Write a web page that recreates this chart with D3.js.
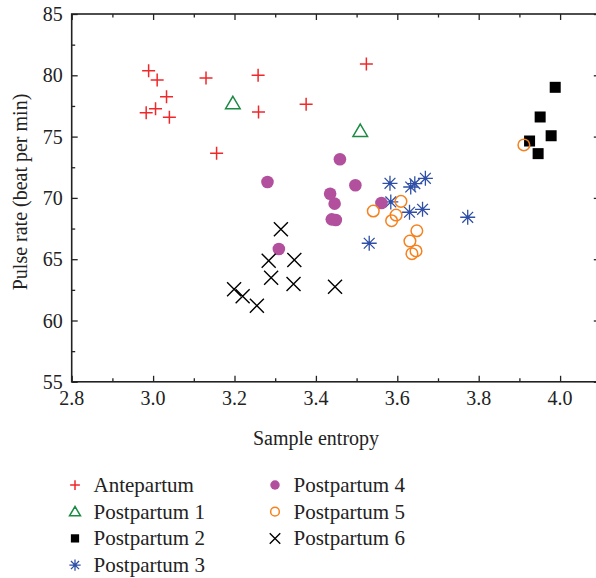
<!DOCTYPE html>
<html>
<head>
<meta charset="utf-8">
<script src="https://cdn.jsdelivr.net/npm/d3@7"></script>
<style>
  body { margin: 0; background: #fff; }
  text { font-family: "Liberation Serif", "DejaVu Serif", serif; fill: #222; }
</style>
</head>
<body>
<script>
// values: [sample entropy, pulse rate]
const antepartum = [[2.989, 80.38], [3.010, 79.62], [3.033, 78.25], [2.983, 76.95], [3.006, 77.28],
  [3.040, 76.57], [3.130, 79.78], [3.156, 73.64], [3.258, 80.0], [3.259, 77.01], [3.376, 77.63], [3.524, 80.92]];
const postpartum1 = [[3.196, 77.72], [3.509, 75.46]];
const postpartum2 = [[3.988, 79.02], [3.951, 76.60], [3.978, 75.07], [3.925, 74.64], [3.946, 73.61]];
const postpartum3 = [[3.582, 71.19], [3.633, 70.89], [3.643, 71.16], [3.669, 71.60], [3.584, 69.67],
  [3.630, 68.83], [3.662, 69.07], [3.773, 68.42], [3.531, 66.30]];
const postpartum4 = [[3.459, 73.15], [3.281, 71.30], [3.497, 71.03], [3.435, 70.34], [3.446, 69.53],
  [3.439, 68.25], [3.449, 68.20], [3.561, 69.58], [3.309, 65.83]];
const postpartum5 = [[3.541, 68.93], [3.609, 69.72], [3.597, 68.60], [3.586, 68.14], [3.648, 67.32],
  [3.631, 66.48], [3.646, 65.67], [3.636, 65.45], [3.911, 74.32]];
const postpartum6 = [[3.314, 67.44], [3.284, 64.88], [3.347, 64.94], [3.290, 63.49], [3.345, 62.98],
  [3.199, 62.55], [3.220, 61.97], [3.255, 61.21], [3.447, 62.76]];

const seriesNames = ["Antepartum", "Postpartum 1", "Postpartum 2", "Postpartum 3", "Postpartum 4", "Postpartum 5", "Postpartum 6"];
const xMajor = [2.8, 3.0, 3.2, 3.4, 3.6, 3.8, 4.0];
const xMinor = [2.9, 3.1, 3.3, 3.5, 3.7, 3.9];
const yMajor = [55, 60, 65, 70, 75, 80, 85];
const yMinor = [57.5, 62.5, 67.5, 72.5, 77.5, 82.5];

const w = 596, h = 578;
const plotL = 71.7, plotT = 14, plotR = 600.8, plotB = 381.8;

const svg = d3.select("body").append("svg")
  .attr("width", w).attr("height", h);

const x = d3.scaleLinear().domain([2.8, 4.1]).range([plotL, plotR]);
const y = d3.scaleLinear().domain([55, 85]).range([plotB, plotT]);

// marker drawers
const shapes = {
  plus: s => `M${-s},0H${s}M0,${-s}V${s}`,
  tri: s => `M0,${-s * 0.95}L${s},${s * 0.75}L${-s},${s * 0.75}Z`,
  cross: s => `M${-s},${-s}L${s},${s}M${-s},${s}L${s},${-s}`,
  star: s => {
    const d = s * 0.72;
    return `M0,${-s}V${s}M${-s},0H${s}M${-d},${-d}L${d},${d}M${-d},${d}L${d},${-d}`;
  }
};

function drawMarker(g, kind, k) {
  if (kind === 0) {
    g.append("path").attr("d", shapes.plus(6.5 * k)).attr("stroke", "#f0282a").attr("stroke-width", 1.5).attr("fill", "none");
  } else if (kind === 1) {
    g.append("path").attr("d", shapes.tri(7.3 * k)).attr("stroke", "#1b8a43").attr("stroke-width", 1.5).attr("fill", "none");
  } else if (kind === 2) {
    const s = 11 * k;
    g.append("rect").attr("x", -s / 2).attr("y", -s / 2).attr("width", s).attr("height", s).attr("fill", "#000");
  } else if (kind === 3) {
    g.append("path").attr("d", shapes.star(7.5 * k)).attr("stroke", "#2f4fa6").attr("stroke-width", 1.3).attr("fill", "none");
    g.append("circle").attr("r", 1.8 * k).attr("fill", "#2f4fa6");
  } else if (kind === 4) {
    g.append("circle").attr("r", 6.3 * k).attr("fill", "#b2509e");
  } else if (kind === 5) {
    g.append("circle").attr("r", 5.8 * k).attr("fill", "none").attr("stroke", "#f5821f").attr("stroke-width", 1.5);
  } else {
    g.append("path").attr("d", shapes.cross(7 * k)).attr("stroke", "#000").attr("stroke-width", 1.4).attr("fill", "none");
  }
}

// axes with inward ticks, mirrored on top and right
function tickAxis(axisFn, scale, vals, size, pos) {
  const g = svg.append("g").attr("transform", pos)
    .call(axisFn(scale).tickValues(vals).tickSize(size).tickFormat(""));
  g.select(".domain").remove();
  g.selectAll("line").attr("stroke", "#222").attr("stroke-width", 1.3);
}
tickAxis(d3.axisBottom, x, xMajor, -6, `translate(0,${plotB})`);
tickAxis(d3.axisBottom, x, xMinor, -3.5, `translate(0,${plotB})`);
tickAxis(d3.axisTop, x, xMajor, -6, `translate(0,${plotT})`);
tickAxis(d3.axisTop, x, xMinor, -3.5, `translate(0,${plotT})`);
tickAxis(d3.axisLeft, y, yMajor, -6, `translate(${plotL},0)`);
tickAxis(d3.axisLeft, y, yMinor, -3.5, `translate(${plotL},0)`);
tickAxis(d3.axisRight, y, yMajor, -6, `translate(${plotR - 1},0)`);
tickAxis(d3.axisRight, y, yMinor, -3.5, `translate(${plotR - 1},0)`);

svg.append("rect")
  .attr("x", plotL).attr("y", plotT)
  .attr("width", plotR - plotL).attr("height", plotB - plotT)
  .attr("fill", "none").attr("stroke", "#222").attr("stroke-width", 1.6);

// tick labels
svg.append("g").selectAll("text").data(xMajor).enter().append("text")
  .attr("x", d => x(d)).attr("y", 405)
  .attr("text-anchor", "middle").attr("font-size", 20)
  .text(d => d.toFixed(1));
svg.append("g").selectAll("text").data(yMajor).enter().append("text")
  .attr("x", plotL - 9).attr("y", d => y(d) + 7)
  .attr("text-anchor", "end").attr("font-size", 20)
  .text(d => d);

svg.append("text").attr("x", 316).attr("y", 445)
  .attr("text-anchor", "middle").attr("font-size", 20)
  .text("Sample entropy");
svg.append("text").attr("transform", "translate(27,192) rotate(-90)")
  .attr("text-anchor", "middle").attr("font-size", 20)
  .text("Pulse rate (beat per min)");

// points
const allSeries = [antepartum, postpartum1, postpartum2, postpartum3, postpartum4, postpartum5, postpartum6];
allSeries.forEach((pts, i) => {
  svg.append("g").selectAll("g").data(pts).enter().append("g")
    .attr("transform", d => `translate(${x(d[0])},${y(d[1])})`)
    .each(function () { drawMarker(d3.select(this), i, 1); });
});

// legend
const legend = svg.append("g");
seriesNames.forEach((name, i) => {
  const col = i < 4 ? 0 : 1;
  const row = i < 4 ? i : i - 4;
  const lx = col === 0 ? 75 : 275;
  const ly = 485 + row * 26.7;
  const g = legend.append("g").attr("transform", `translate(${lx},${ly})`);
  drawMarker(g, i, 0.75);
  legend.append("text").attr("x", lx + 18.5).attr("y", ly + 7)
    .attr("font-size", 21).text(name);
});
</script>
</body>
</html>
